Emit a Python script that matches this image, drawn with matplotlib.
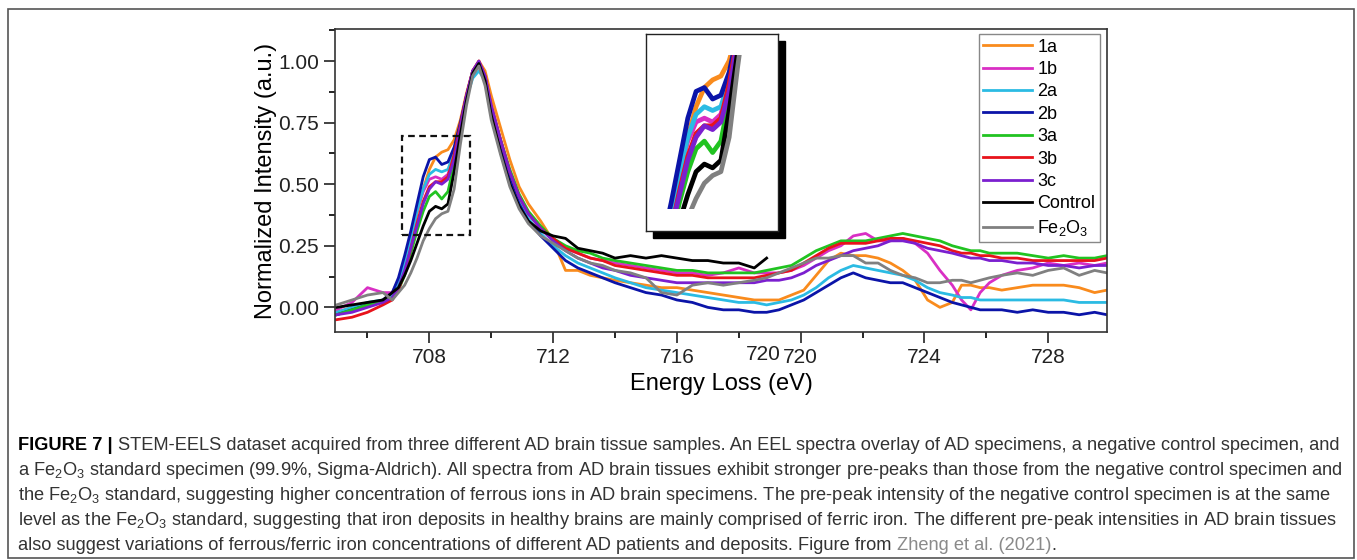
import matplotlib
matplotlib.use("Agg")
import matplotlib.pyplot as plt
from matplotlib.patches import Rectangle

plt.rcParams['font.family'] = ['Liberation Sans', 'DejaVu Sans']
plt.rcParams['mathtext.fontset'] = 'custom'
plt.rcParams['mathtext.rm'] = 'Liberation Sans'
plt.rcParams['mathtext.it'] = 'Liberation Sans:italic'
plt.rcParams['mathtext.bf'] = 'Liberation Sans:bold'
plt.rcParams['mathtext.default'] = 'regular'

# energy loss grid (eV)
energy = [705.0, 705.5, 706.0, 706.5, 706.8, 707.0, 707.2, 707.4, 707.6, 707.8,
          708.0, 708.2, 708.4, 708.6, 708.8, 709.0, 709.2, 709.4, 709.6, 709.8,
          710.0, 710.3, 710.6, 710.9, 711.2, 711.6, 712.0, 712.4, 712.8, 713.2,
          713.6, 714.0, 714.5, 715.0, 715.5, 716.0, 716.5, 717.0, 717.5, 718.0,
          718.5, 718.9, 719.3, 719.7, 720.1, 720.5, 720.9, 721.3, 721.7, 722.1,
          722.5, 722.9, 723.3, 723.7, 724.1, 724.5, 724.9, 725.2, 725.5, 725.8,
          726.1, 726.5, 727.0, 727.5, 728.0, 728.5, 729.0, 729.5, 729.9]

s1a = [-0.02, 0.00, 0.01, 0.03, 0.05, 0.09, 0.17, 0.27, 0.38, 0.48,
       0.56, 0.61, 0.63, 0.64, 0.68, 0.76, 0.87, 0.96, 1.00, 0.96,
       0.86, 0.73, 0.60, 0.49, 0.42, 0.35, 0.27, 0.15, 0.15, 0.13,
       0.12, 0.11, 0.10, 0.09, 0.08, 0.08, 0.07, 0.06, 0.05, 0.04,
       0.03, 0.03, 0.03, 0.05, 0.07, 0.13, 0.19, 0.22, 0.21, 0.21,
       0.20, 0.18, 0.15, 0.11, 0.03, 0.00, 0.02, 0.09, 0.09, 0.08,
       0.08, 0.07, 0.08, 0.09, 0.09, 0.09, 0.08, 0.06, 0.07]
s1b = [-0.01, 0.02, 0.08, 0.06, 0.06, 0.11, 0.19, 0.29, 0.39, 0.47,
       0.52, 0.53, 0.52, 0.54, 0.62, 0.74, 0.86, 0.95, 0.99, 0.93,
       0.81, 0.68, 0.55, 0.45, 0.38, 0.32, 0.27, 0.24, 0.22, 0.20,
       0.19, 0.18, 0.17, 0.16, 0.15, 0.14, 0.14, 0.13, 0.14, 0.16,
       0.14, 0.14, 0.14, 0.15, 0.17, 0.20, 0.23, 0.25, 0.29, 0.30,
       0.27, 0.27, 0.28, 0.26, 0.22, 0.15, 0.09, 0.03, -0.01, 0.06,
       0.10, 0.13, 0.15, 0.16, 0.18, 0.17, 0.18, 0.17, 0.18]
s2a = [-0.02, 0.00, 0.02, 0.03, 0.05, 0.10, 0.18, 0.28, 0.39, 0.48,
       0.54, 0.56, 0.55, 0.56, 0.63, 0.74, 0.85, 0.93, 0.96, 0.92,
       0.80, 0.67, 0.53, 0.43, 0.36, 0.30, 0.25, 0.21, 0.18, 0.16,
       0.14, 0.12, 0.10, 0.08, 0.07, 0.06, 0.05, 0.04, 0.03, 0.02,
       0.02, 0.01, 0.02, 0.03, 0.05, 0.08, 0.12, 0.15, 0.17, 0.16,
       0.15, 0.14, 0.13, 0.11, 0.08, 0.06, 0.05, 0.04, 0.04, 0.03,
       0.03, 0.03, 0.03, 0.03, 0.03, 0.03, 0.02, 0.02, 0.02]
s2b = [-0.03, -0.01, 0.01, 0.03, 0.06, 0.12, 0.21, 0.31, 0.42, 0.53,
       0.60, 0.61, 0.58, 0.59, 0.65, 0.75, 0.86, 0.96, 0.99, 0.93,
       0.80, 0.66, 0.52, 0.42, 0.35, 0.29, 0.24, 0.19, 0.16, 0.14,
       0.12, 0.10, 0.08, 0.06, 0.05, 0.03, 0.02, 0.00, -0.01, -0.01,
       -0.02, -0.02, -0.01, 0.01, 0.03, 0.06, 0.09, 0.12, 0.14, 0.12,
       0.11, 0.10, 0.10, 0.08, 0.06, 0.04, 0.02, 0.01, 0.00, -0.01,
       -0.01, -0.01, -0.02, -0.01, -0.02, -0.02, -0.03, -0.02, -0.03]
s3a = [-0.03, -0.01, 0.01, 0.02, 0.04, 0.07, 0.13, 0.22, 0.31, 0.39,
       0.45, 0.47, 0.44, 0.47, 0.58, 0.72, 0.85, 0.95, 0.99, 0.93,
       0.81, 0.68, 0.56, 0.46, 0.39, 0.33, 0.28, 0.25, 0.23, 0.22,
       0.20, 0.19, 0.18, 0.17, 0.16, 0.15, 0.15, 0.14, 0.14, 0.14,
       0.14, 0.15, 0.16, 0.17, 0.20, 0.23, 0.25, 0.27, 0.27, 0.27,
       0.28, 0.29, 0.30, 0.29, 0.28, 0.27, 0.25, 0.24, 0.23, 0.23,
       0.22, 0.22, 0.22, 0.21, 0.20, 0.21, 0.20, 0.20, 0.21]
s3b = [-0.05, -0.04, -0.02, 0.01, 0.03, 0.07, 0.14, 0.24, 0.34, 0.43,
       0.49, 0.51, 0.51, 0.53, 0.62, 0.74, 0.86, 0.96, 1.00, 0.94,
       0.82, 0.68, 0.55, 0.45, 0.38, 0.32, 0.28, 0.24, 0.22, 0.20,
       0.19, 0.17, 0.16, 0.15, 0.14, 0.13, 0.13, 0.12, 0.12, 0.12,
       0.12, 0.13, 0.14, 0.15, 0.18, 0.21, 0.24, 0.26, 0.26, 0.26,
       0.27, 0.28, 0.28, 0.27, 0.26, 0.25, 0.23, 0.22, 0.22, 0.21,
       0.21, 0.20, 0.20, 0.19, 0.19, 0.19, 0.19, 0.19, 0.20]
s3c = [-0.03, -0.02, 0.00, 0.02, 0.04, 0.08, 0.15, 0.24, 0.33, 0.42,
       0.48, 0.51, 0.50, 0.52, 0.60, 0.73, 0.86, 0.96, 1.00, 0.94,
       0.82, 0.68, 0.55, 0.45, 0.38, 0.32, 0.27, 0.23, 0.20, 0.18,
       0.16, 0.15, 0.13, 0.12, 0.11, 0.10, 0.10, 0.10, 0.10, 0.10,
       0.10, 0.11, 0.11, 0.12, 0.14, 0.17, 0.19, 0.21, 0.23, 0.24,
       0.25, 0.27, 0.27, 0.26, 0.24, 0.23, 0.22, 0.21, 0.20, 0.20,
       0.19, 0.19, 0.18, 0.18, 0.17, 0.17, 0.16, 0.17, 0.17]
control = [0.00, 0.01, 0.02, 0.03, 0.06, 0.08, 0.13, 0.19, 0.26, 0.33,
           0.39, 0.41, 0.40, 0.42, 0.55, 0.70, 0.84, 0.95, 0.99, 0.92,
           0.78, 0.63, 0.50, 0.41, 0.35, 0.31, 0.29, 0.28, 0.24, 0.23,
           0.22, 0.20, 0.21, 0.20, 0.21, 0.20, 0.19, 0.19, 0.18, 0.18,
           0.16, 0.20]
fe2o3 = [0.01, 0.03, 0.05, 0.06, 0.03, 0.06, 0.09, 0.14, 0.20, 0.27,
         0.32, 0.36, 0.38, 0.39, 0.48, 0.66, 0.82, 0.94, 0.98, 0.90,
         0.76, 0.62, 0.49, 0.40, 0.34, 0.29, 0.26, 0.23, 0.20, 0.18,
         0.17, 0.15, 0.14, 0.12, 0.06, 0.05, 0.09, 0.10, 0.09, 0.10,
         0.11, 0.12, 0.14, 0.16, 0.18, 0.20, 0.20, 0.21, 0.21, 0.18,
         0.18, 0.15, 0.13, 0.12, 0.10, 0.10, 0.11, 0.11, 0.10, 0.11,
         0.12, 0.13, 0.14, 0.13, 0.15, 0.16, 0.13, 0.15, 0.14]

labels = ['1a', '1b', '2a', '2b', '3a', '3b', '3c', 'Control', 'Fe$_2$O$_3$']
spectra = [s1a, s1b, s2a, s2b, s3a, s3b, s3c, control, fe2o3]
colors = ['#f98b1d', '#d92fc4', '#2bbbe3', '#0b14a8', '#21c321',
          '#e8131b', '#7b1fcf', '#000000', '#808080']

caption = [
    [("FIGURE 7 |", 'bold', 'black'),
     ("STEM-EELS dataset acquired from three different AD brain tissue samples. An EEL spectra overlay of AD specimens, a negative control specimen, and", 'normal', '#333333')],
    [("a Fe$_2$O$_3$ standard specimen (99.9%, Sigma-Aldrich). All spectra from AD brain tissues exhibit stronger pre-peaks than those from the negative control specimen and", 'normal', '#333333')],
    [("the Fe$_2$O$_3$ standard, suggesting higher concentration of ferrous ions in AD brain specimens. The pre-peak intensity of the negative control specimen is at the same", 'normal', '#333333')],
    [("level as the Fe$_2$O$_3$ standard, suggesting that iron deposits in healthy brains are mainly comprised of ferric iron. The different pre-peak intensities in AD brain tissues", 'normal', '#333333')],
    [("also suggest variations of ferrous/ferric iron concentrations of different AD patients and deposits. Figure from", 'normal', '#333333'),
     ("Zheng et al. (2021)", 'normal', '#8a8a8a'),
     (".", 'normal', '#333333')],
]

W, H = 1357, 560
fig = plt.figure(figsize=(W / 100, H / 100), dpi=100)

# main axes
ax = fig.add_axes([335 / W, 1 - 332 / H, (1107 - 335) / W, (332 - 29) / H])
for lab, ys, col in zip(labels, spectra, colors):
    ax.plot(energy[:len(ys)], ys, color=col, lw=2.0, label=lab)

ax.set_xlim(704.95, 729.9)
ax.set_ylim(-0.1, 1.13)
ax.set_xticks([708, 712, 716, 720, 724, 728])
ax.set_xticks([706, 710, 714, 718, 722, 726], minor=True)
ax.set_yticks([0, 0.25, 0.5, 0.75, 1.0])
ax.set_yticks([0.125, 0.375, 0.625, 0.875, 1.125], minor=True)
ax.set_yticklabels(['0.00', '0.25', '0.50', '0.75', '1.00'])
ax.tick_params(which='major', direction='out', length=8, width=1.2, labelsize=15, colors='#222222')
ax.tick_params(which='minor', direction='out', length=4.5, width=1.2)
for sp in ax.spines.values():
    sp.set_linewidth(1.2)
    sp.set_color('#333333')
ax.set_xlabel('Energy Loss (eV)', fontsize=17, labelpad=4)
ax.set_ylabel('Normalized Intensity (a.u.)', fontsize=17, labelpad=1)

# second "720" label of the split energy scale
ax.text(718.78, -0.043, '720', transform=ax.get_xaxis_transform(),
        ha='center', va='top', fontsize=15, color='#222222')

# dashed box marking the pre-peak region
zoom_x0, zoom_x1, zoom_y0, zoom_y1 = 707.1, 709.3, 0.293, 0.695
ax.add_patch(Rectangle((zoom_x0, zoom_y0), zoom_x1 - zoom_x0, zoom_y1 - zoom_y0,
                       fill=False, ls=(0, (3, 2)), lw=1.6, ec='#111111', zorder=5))

leg = ax.legend(loc='upper right', bbox_to_anchor=(1100 / W, 1 - 34 / H),
                bbox_transform=fig.transFigure, fancybox=False, framealpha=1,
                edgecolor='#888888', fontsize=13, handlelength=2.7,
                handletextpad=0.3, labelspacing=0.3, borderpad=0.25,
                borderaxespad=0)
leg.get_frame().set_linewidth(1.0)

# inset with drop shadow
ix, iy, iw, ih = 646, 34, 132, 197
shadow = Rectangle(((ix + 7) / W, 1 - (iy + ih + 7) / H), iw / W, ih / H,
                   transform=fig.transFigure, color='black', zorder=2)
fig.add_artist(shadow)
ins = fig.add_axes([ix / W, 1 - (iy + ih) / H, iw / W, ih / H])
ins.set_zorder(3)
clip = Rectangle((zoom_x0, zoom_y0), zoom_x1 - zoom_x0, zoom_y1 - zoom_y0,
                 transform=ins.transData)
for ys, col in zip(spectra, colors):
    ln, = ins.plot(energy[:len(ys)], ys, color=col, lw=3.4)
    ln.set_clip_path(clip)
ins.set_xlim(706.79, 709.98)
ins.set_ylim(0.235, 0.75)
ins.set_xticks([])
ins.set_yticks([])
for sp in ins.spines.values():
    sp.set_linewidth(1.0)
    sp.set_color('#222222')

# outer frame
fig.add_artist(Rectangle((8 / W, 1 - 558 / H), (1354 - 8) / W, (558 - 9) / H,
                         transform=fig.transFigure, fill=False,
                         ec='#555555', lw=1.2))


# caption, sized to the width of the first line
def draw_caption(size, baselines=(450, 475, 500, 525, 550), left=18):
    r = fig.canvas.get_renderer()
    gap = 0.278 * size * 100 / 72
    arts = []
    widths = []
    for line, yb in zip(caption, baselines):
        x = left
        for k, (txt, wt, col) in enumerate(line):
            t = fig.text(x / W, 1 - yb / H, txt, fontsize=size, weight=wt,
                         color=col, ha='left', va='baseline')
            arts.append(t)
            bb = t.get_window_extent(r)
            x = bb.x1
            if k + 1 < len(line) and line[k + 1][0] != '.':
                x += gap
        widths.append(x - left)
    return arts, widths[0]


fig.canvas.draw()
arts, w0 = draw_caption(12)
target = 1327
for a in arts:
    a.remove()
draw_caption(12 * target / w0)

fig.savefig('out.png', dpi=100)
